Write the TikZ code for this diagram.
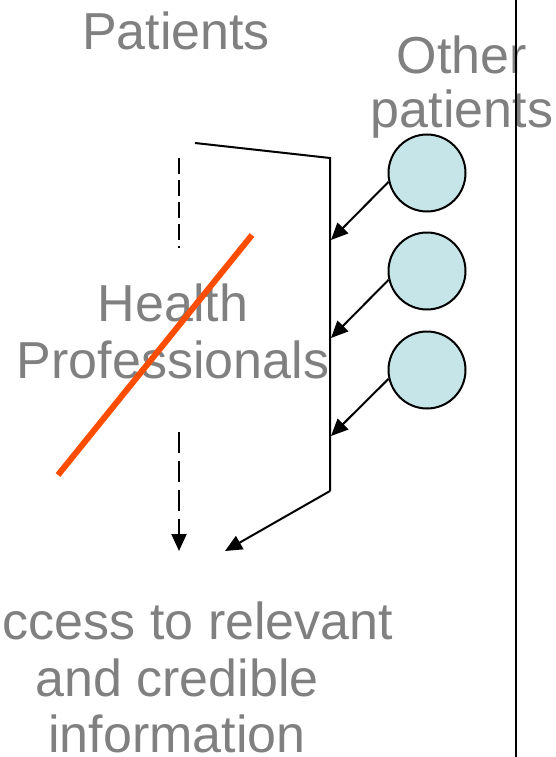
\documentclass[tikz,border=0pt]{standalone}
\usepackage{fontspec}
\setmainfont{Liberation Sans}
\usetikzlibrary{arrows.meta}
\usetikzlibrary{positioning}

\definecolor{patientblue}{RGB}{197,229,232}
\definecolor{crossorange}{RGB}{255,77,0}
\definecolor{textgray}{RGB}{128,128,128}

\tikzset{
  bigtext/.style={text=textgray, font=\fontsize{52}{56.5}\selectfont, align=center, inner sep=0pt},
  patient/.style={circle, draw, line width=2pt, fill=patientblue, minimum size=77pt, inner sep=0pt},
  flow/.style={line width=2pt, -{Triangle[length=17pt,width=15pt]}},
}

\begin{document}
\begin{tikzpicture}[x=1pt, y=-1pt]
  \useasboundingbox (0,0) rectangle (555,757);

  \node[bigtext, anchor=base] (pat) at (176,50) {Patients};
  \node[bigtext, anchor=north, font=\fontsize{52}{53.3}\selectfont] (oth) at (462,36) {Other\\patients};
  \node[bigtext, anchor=north, inner ysep=36pt, text depth=17pt] (hp) at (173,248) {Health\\Professionals};
  \node[bigtext, anchor=north] (acc) at (177,602) {ccess to relevant\kern-42pt\\and credible\\information};

  \draw[line width=1.8pt] (516,0) -- (516,757);

  \foreach \n / \y in {1/173, 2/271, 3/370} {
    \node[patient] (c\n) at (427,\y) {};
  }

  \coordinate (top) at (195,143);
  \coordinate (corner) at (330,158);
  \coordinate (foot) at (330,491);
  \coordinate (dtop) at (179,158);
  \coordinate (dend) at (179,551);
  \coordinate (aend) at (225,551);
  \coordinate (in1) at (331,240);
  \coordinate (in2) at (331,338);
  \coordinate (in3) at (331,436);

  \draw[line width=2pt, dash pattern=on 16pt off 6pt] (dtop) -- (hp.north -| dtop);
  \draw[flow, dash pattern=on 21pt off 8pt] (hp.south -| dtop) -- (dend);

  \draw[line width=2pt] (top) -- (corner) -- (foot);
  \draw[flow] (foot) -- (aend);

  \foreach \n in {1, 2, 3} {
    \draw[flow] (c\n.193) -- (in\n);
  }

  \draw[crossorange, line width=6pt] (252,235) -- (58,475);
\end{tikzpicture}
\end{document}
